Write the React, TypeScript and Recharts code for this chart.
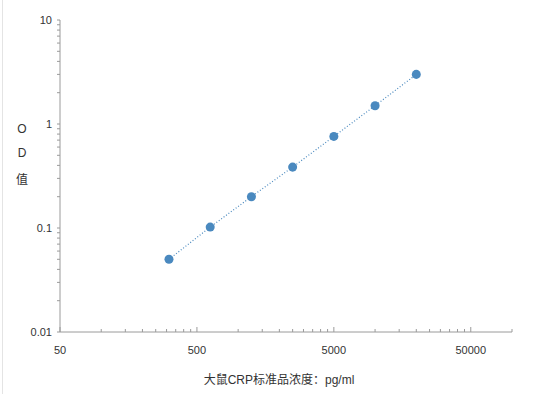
import React from "react";
import { ScatterChart, Scatter, XAxis, YAxis, ZAxis } from "recharts";

const concentrations = [312.5, 625, 1250, 2500, 5000, 10000, 20000];
const odValues = [0.05, 0.102, 0.2, 0.385, 0.76, 1.5, 3.0];

const xMajorTicks = [50, 500, 5000, 50000];
const xTicks = [
  50, 100, 150, 200, 250, 300, 350, 400, 450,
  500, 1000, 1500, 2000, 2500, 3000, 3500, 4000, 4500,
  5000, 10000, 15000, 20000, 25000, 30000, 35000, 40000, 45000,
  50000, 100000,
];
const yMajorTicks = [0.01, 0.1, 1, 10];
const yTicks = [
  0.01, 0.02, 0.03, 0.04, 0.05, 0.06, 0.07, 0.08, 0.09,
  0.1, 0.2, 0.3, 0.4, 0.5, 0.6, 0.7, 0.8, 0.9,
  1, 2, 3, 4, 5, 6, 7, 8, 9,
  10,
];
const yLabelChars = ["O", "D", "值"];
const xLabel = "大鼠CRP标准品浓度：pg/ml";

const data = concentrations.map((c, i) => ({ x: c, y: odValues[i] }));

const FONT = "'Liberation Sans', Arial, 'Noto Sans CJK SC', sans-serif";
const AXIS = "#9a9a9a";
const TEXT = "#333";
const BLUE = "#4a89bf";

const isMajor = (v: number, list: number[]) => list.some((m) => Math.abs(m - v) < 1e-9);

const XTick = (props: any) => {
  const { x, y, payload } = props;
  const major = isMajor(payload.value, xMajorTicks);
  const end = payload.value === 100000;
  const len = major ? 5 : 3;
  return (
    <g>
      <line x1={x} y1={y} x2={x} y2={y - len} stroke={AXIS} strokeWidth={1} />
      {major && !end && (
        <text x={x} y={y + 22} textAnchor="middle" fontSize={11} fill={TEXT} fontFamily={FONT}>
          {payload.value}
        </text>
      )}
    </g>
  );
};

const YTick = (props: any) => {
  const { x, y, payload } = props;
  const major = isMajor(payload.value, yMajorTicks);
  return (
    <g>
      <line x1={x} y1={y} x2={x - 3} y2={y} stroke={AXIS} strokeWidth={1} />
      {major && (
        <text x={x - 8} y={y + 4} textAnchor="end" fontSize={11} fill={TEXT} fontFamily={FONT}>
          {payload.value}
        </text>
      )}
    </g>
  );
};

const YLabel = () => (
  <g>
    {yLabelChars.map((ch, i) => (
      <text
        key={i}
        x={22}
        y={[133, 157, 184][i]}
        textAnchor="middle"
        fontSize={12}
        fill={TEXT}
        fontFamily={FONT}
      >
        {ch}
      </text>
    ))}
  </g>
);

const XLabel = () => (
  <text x={279} y={384} textAnchor="middle" fontSize={12} fill={TEXT} fontFamily={FONT}>
    {xLabel}
  </text>
);

export default function App() {
  return (
    <div style={{ position: "absolute", left: 0, top: 0, width: 558, height: 394, background: "#fff" }}>
      <div style={{ position: "absolute", left: 2, top: 0, width: 1, height: 394, background: "#e4e4e4" }} />
      <ScatterChart width={558} height={394} margin={{ top: 20, right: 46, left: 0, bottom: 32 }}>
        <XAxis
          dataKey="x"
          type="number"
          scale="log"
          domain={[50, 100000]}
          allowDataOverflow
          ticks={xTicks}
          interval={0}
          tickSize={0}
          tickMargin={0}
          tickLine={false}
          tick={<XTick />}
          stroke={AXIS}
          height={30}
          label={<XLabel />}
        />
        <YAxis
          dataKey="y"
          type="number"
          scale="log"
          domain={[0.01, 10]}
          allowDataOverflow
          ticks={yTicks}
          interval={0}
          tickSize={0}
          tickMargin={0}
          tickLine={false}
          tick={<YTick />}
          stroke={AXIS}
          width={60}
          label={<YLabel />}
        />
        <ZAxis range={[52, 52]} />
        <Scatter
          data={data}
          fill={BLUE}
          line={{ stroke: BLUE, strokeWidth: 1.2, strokeDasharray: "1 2" }}
          lineType="joint"
          isAnimationActive={false}
        />
      </ScatterChart>
    </div>
  );
}
